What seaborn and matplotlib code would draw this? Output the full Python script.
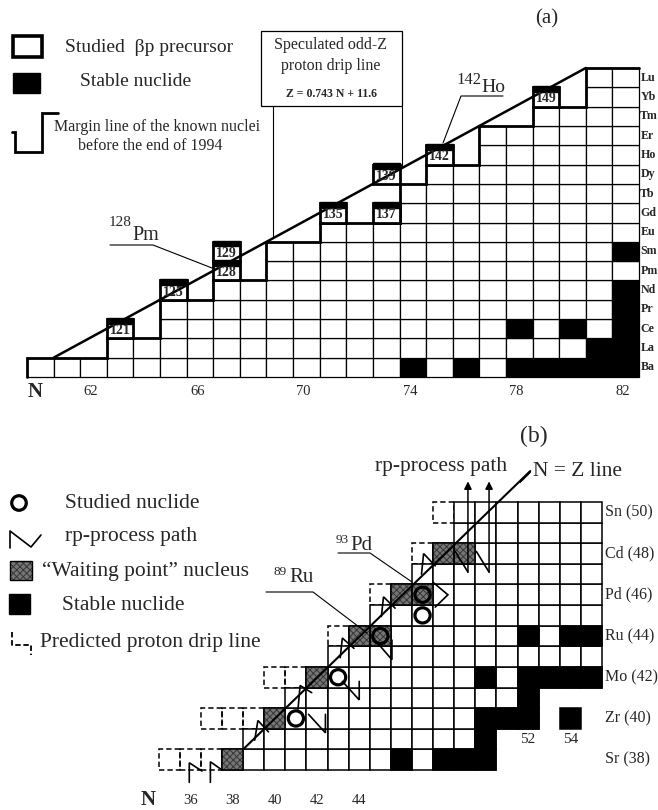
import matplotlib
matplotlib.use('Agg')
import matplotlib.pyplot as plt
from matplotlib.patches import Rectangle
import numpy as np
import pandas as pd
import seaborn as sns

sns.set_theme(style='white')
plt.rcParams['font.family'] = ['Liberation Serif', 'DejaVu Serif']
plt.rcParams['hatch.linewidth'] = 0.7

# ---------------- Panel (a) data ----------------
elements_a = ['Ba', 'La', 'Ce', 'Pr', 'Nd', 'Pm', 'Sm', 'Eu', 'Gd', 'Tb', 'Dy', 'Ho', 'Er', 'Tm', 'Yb', 'Lu']
z_a = list(range(56, 72))
n_a = list(range(60, 83))
known_top_a = [56, 56, 56, 57, 57, 59, 59, 60, 60, 62, 62, 63, 63, 63, 65, 66, 66, 68, 68, 69, 69, 71, 71]
studied_n = [63, 65, 67, 67, 71, 73, 73, 75, 79]
studied_z = [58, 60, 61, 62, 64, 64, 66, 67, 70]
studied_mass = ['121', '125', '128', '129', '135', '137', '139', '142', '149']
stable_a_n = [74, 76, 78, 79, 80, 81, 82, 81, 82, 78, 80, 82, 82, 82, 82]
stable_a_z = [56, 56, 56, 56, 56, 56, 56, 57, 57, 58, 58, 58, 59, 60, 62]
n_ticks_a = [62, 66, 70, 74, 78, 82]
drip_n = [60.5, 80.5]
drip_z = [56.5, 71.5]

# ---------------- Panel (b) data ----------------
elements_b = ['Sr', 'Y', 'Zr', 'Nb', 'Mo', 'Tc', 'Ru', 'Rh', 'Pd', 'Ag', 'Cd', 'In', 'Sn']
z_b = list(range(38, 51))
row_first_b = [38, 39, 40, 41, 42, 43, 44, 45, 46, 47, 48, 49, 49]
row_last_b = [50, 50, 52, 52, 55, 55, 55, 55, 55, 55, 55, 55, 55]
row_label_el = ['Sn', 'Cd', 'Pd', 'Ru', 'Mo', 'Zr', 'Sr']
row_label_z = [50, 48, 46, 44, 42, 40, 38]
dashed_n_b = [35, 36, 37, 37, 38, 39, 40, 41, 43, 45, 47, 48]
dashed_z_b = [38, 38, 38, 40, 40, 40, 42, 42, 44, 46, 48, 50]
stable_b_n = [46, 48, 49, 50, 50, 50, 51, 52, 54, 52, 50, 52, 53, 54, 55, 52, 54, 55]
stable_b_z = [38, 38, 38, 38, 39, 40, 40, 40, 40, 41, 42, 42, 42, 42, 42, 44, 44, 44]
waiting_n = [38, 40, 42, 44, 45, 46, 47, 48, 49]
waiting_z = [38, 40, 42, 44, 44, 46, 46, 48, 48]
circle_n = [41, 43, 45, 47, 47]
circle_z = [40, 42, 44, 45, 46]
n_ticks_b = [36, 38, 40, 42, 44]
extra_ticks_b = [52, 54]
nz_line_n = [38.5, 52.1]
nz_line_z = [38.5, 52.0]
# rp-process path strokes (N, Z)
rp_strokes = [
    ([35.95, 35.95, 36.55], [36.9, 37.85, 37.45]),
    ([36.95, 36.95, 37.5], [36.9, 37.9, 37.5]),
    ([39.05, 39.2, 39.7], [38.95, 39.9, 39.35]),
    ([41.1, 41.2, 41.75], [40.45, 41.6, 41.25]),
    ([43.1, 43.2, 43.75], [42.95, 43.9, 43.4]),
    ([45.05, 45.15, 45.7], [44.95, 45.9, 45.35]),
    ([46.95, 47.05, 47.6], [47.0, 48.0, 47.4]),
    ([41.6, 42.4, 42.4], [40.2, 39.3, 40.2]),
    ([43.2, 44.0, 44.0], [41.8, 40.9, 41.8]),
    ([44.75, 45.55, 45.55], [43.8, 42.85, 43.8]),
    ([47.5, 48.2, 47.6], [46.6, 46.0, 45.4]),
    ([48.55, 49.15], [48.1, 47.1]),
    ([49.55, 50.15], [48.1, 47.1]),
]
rp_arrow_n = [49.15, 50.15]
rp_arrow_z0 = [47.1, 47.1]
rp_arrow_z1 = [51.5, 51.5]

# ---------------- geometry (pixel layout) ----------------
W, H = 658, 810
CWA, RHA = 612 / 23, 309 / 16
CWB, RHB = 380 / 18, 268 / 13


def pa(px, py):
    return 59.5 + (px - 27) / CWA, 55.5 + (377 - py) / RHA


def pb(px, py):
    return 37.5 + (px - 222) / CWB, 37.5 + (770 - py) / RHB


fig = plt.figure(figsize=(W / 100, H / 100), dpi=100)
fig.patch.set_facecolor('white')
axA = fig.add_axes([0, 0, 1, 1])
axA.set_xlim(pa(0, 0)[0], pa(W, 0)[0])
axA.set_ylim(pa(0, H)[1], pa(0, 0)[1])
axB = fig.add_axes([0, 0, 1, 1])
axB.set_xlim(pb(0, 0)[0], pb(W, 0)[0])
axB.set_ylim(pb(0, H)[1], pb(0, 0)[1])
axP = fig.add_axes([0, 0, 1, 1])
axP.set_xlim(0, W)
axP.set_ylim(H, 0)
for ax in (axA, axB, axP):
    ax.axis('off')
    ax.patch.set_alpha(0)

K = 'black'
GREY_FC, GREY_EC = '#767676', '#363636'

# ================= Panel (a) =================
stable_a = set(zip(stable_a_n, stable_a_z))
for n, top in zip(n_a, known_top_a):
    for z in range(56, top + 1):
        fc = K if (n, z) in stable_a else 'white'
        axA.add_patch(Rectangle((n - 0.5, z - 0.5), 1, 1, fc=fc, ec=K, lw=0.9, zorder=2))

# margin line of known nuclei
mx, my = [59.5, 59.5], [55.5, 56.5]
for n, top in zip(n_a, known_top_a):
    mx += [n - 0.5, n + 0.5]
    my += [top + 0.5, top + 0.5]
axA.plot(mx, my, color=K, lw=2.0, zorder=3, solid_joinstyle='miter')

# studied precursors
for n, z, lab in zip(studied_n, studied_z, studied_mass):
    axA.add_patch(Rectangle((n - 0.5, z - 0.5), 1, 1, fc='white', ec=K, lw=2.0, zorder=4))
    axA.add_patch(Rectangle((n - 0.5, z + 0.5 - 0.24), 1, 0.3, fc=K, ec=K, lw=1, zorder=5))
    axA.text(n, z - 0.1, lab, ha='center', va='center', fontsize=10, fontweight='bold', zorder=7)

# speculated drip line
sns.lineplot(x=drip_n, y=drip_z, color=K, lw=1.8, ax=axA, sort=False, estimator=None, zorder=6)

# element labels
for z, el in zip(z_a, elements_a):
    axA.text(82.55, z, el, ha='left', va='center', fontsize=8.6, fontweight='bold')
# N ticks
ytick_a = pa(0, 391)[1]
for n in n_ticks_a:
    axA.text(n - 0.1, ytick_a, str(n), ha='center', va='center', fontsize=10.5)
axA.text(pa(35, 0)[0], pa(0, 392)[1], 'N', ha='center', va='center', fontsize=15, fontweight='bold')

# legend (a)
axP.add_patch(Rectangle((13, 36), 29, 21, fc='white', ec=K, lw=2.6))
axP.text(65, 47, 'Studied  βp precursor', ha='left', va='center', fontsize=14)
axP.add_patch(Rectangle((13, 73), 27, 20, fc=K, ec=K))
axP.text(80, 82, 'Stable nuclide', ha='left', va='center', fontsize=14)
axP.plot([12, 15, 15, 42, 42, 58], [132, 132, 152, 152, 113, 113], color=K, lw=2.0,
         solid_joinstyle='miter')
axP.text(157, 127, 'Margin line of the known nuclei', ha='center', va='center', fontsize=11.5)
axP.text(150, 146, 'before the end of 1994', ha='center', va='center', fontsize=11.5)
axP.text(547, 19, '(a)', ha='center', va='center', fontsize=15)

# speculated box
axP.add_patch(Rectangle((261, 31), 141, 75, fc='white', ec=K, lw=0.9))
axP.text(331, 45, 'Speculated odd-Z', ha='center', va='center', fontsize=11.5)
axP.text(331, 66, 'proton drip line', ha='center', va='center', fontsize=11.5)
axP.text(331, 94, 'Z = 0.743 N + 11.6', ha='center', va='center', fontsize=8.5, fontweight='bold')
for px in (273, 402):
    n0, zt = pa(px, 106)
    zline = drip_z[0] + (drip_z[1] - drip_z[0]) / (drip_n[1] - drip_n[0]) * (n0 - drip_n[0])
    axA.plot([n0, n0], [zt, zline], color=K, lw=0.8, zorder=3)

# 128Pm and 142Ho labels
axP.text(109, 223, '128', ha='left', va='center', fontsize=11)
axP.text(132, 236, 'Pm', ha='left', va='center', fontsize=14.5)
axP.plot([110, 153, 212], [245, 245, 268], color=K, lw=0.8)
axP.text(456, 80, '142', ha='left', va='center', fontsize=12)
axP.text(481, 87, 'Ho', ha='left', va='center', fontsize=14)
axP.plot([503, 461, 443], [96, 96, 143], color=K, lw=0.8)

# ================= Panel (b) =================
for n, z in zip(dashed_n_b, dashed_z_b):
    axB.add_patch(Rectangle((n - 0.5, z - 0.5), 1, 1, fc='none', ec=K, lw=1.1, ls=(0, (3.5, 2)), zorder=2))
stable_b = set(zip(stable_b_n, stable_b_z))
for z, f, l in zip(z_b, row_first_b, row_last_b):
    for n in range(f, l + 1):
        fc = K if (n, z) in stable_b else 'white'
        axB.add_patch(Rectangle((n - 0.5, z - 0.5), 1, 1, fc=fc, ec=K, lw=1.1, zorder=3))
for n, z in stable_b:
    axB.add_patch(Rectangle((n - 0.5, z - 0.5), 1, 1, fc=K, ec=K, lw=1.1, zorder=3))
for n, z in zip(waiting_n, waiting_z):
    axB.add_patch(Rectangle((n - 0.5, z - 0.5), 1, 1, fc=GREY_FC, ec=GREY_EC, lw=0,
                            hatch='xxxxx', zorder=4))
    axB.add_patch(Rectangle((n - 0.5, z - 0.5), 1, 1, fc='none', ec=K, lw=1.1, zorder=4.5))

sns.lineplot(x=nz_line_n, y=nz_line_z, color=K, lw=1.5, ax=axB, sort=False, estimator=None, zorder=6)
for xs, ys in rp_strokes:
    axB.plot(xs, ys, color=K, lw=1.2, zorder=6, solid_joinstyle='miter')
for n, z0, z1 in zip(rp_arrow_n, rp_arrow_z0, rp_arrow_z1):
    axB.annotate('', xy=(n, z1), xytext=(n, z0),
                 arrowprops=dict(arrowstyle='-|>', color=K, lw=1.1, mutation_scale=11,
                                 shrinkA=0, shrinkB=0), zorder=6)

circ = pd.DataFrame({'N': circle_n, 'Z': circle_z})
sns.scatterplot(data=circ, x='N', y='Z', marker='o', s=120, facecolor='none',
                edgecolor=K, linewidth=2.3, ax=axB, zorder=7)

# row labels and ticks (b)
for z, el in zip(row_label_z, row_label_el):
    axB.text(pb(605, 0)[0], z, f'{el} ({z})', ha='left', va='center', fontsize=11.5)
ytick_b = pb(0, 800)[1]
for n in n_ticks_b:
    axB.text(n, ytick_b, str(n), ha='center', va='center', fontsize=10.5)
for n in extra_ticks_b:
    axB.text(n, pb(0, 740)[1], str(n), ha='center', va='center', fontsize=11)
axB.text(pb(148, 0)[0], pb(0, 800)[1], 'N', ha='center', va='center', fontsize=15, fontweight='bold')

# top texts (b)
axP.text(534, 436, '(b)', ha='center', va='center', fontsize=17)
axP.text(441, 467, 'rp-process path', ha='center', va='center', fontsize=15.5)
axP.text(533, 471, 'N = Z line', ha='left', va='center', fontsize=15.5)
axP.plot([520, 530], [482, 472], color=K, lw=1.5)

# 93Pd and 89Ru labels
axP.text(336, 540, '93', ha='left', va='center', fontsize=9.5)
axP.text(350, 546, 'Pd', ha='left', va='center', fontsize=15)
axP.plot([338, 370, 412], [553, 553, 582], color=K, lw=0.8)
axP.text(274, 572, '89', ha='left', va='center', fontsize=9.5)
axP.text(289, 578, 'Ru', ha='left', va='center', fontsize=15)
axP.plot([266, 313, 367], [592, 592, 633], color=K, lw=0.8)

# legend (b)
leg = pd.DataFrame({'x': [19], 'y': [503]})
sns.scatterplot(data=leg, x='x', y='y', marker='o', s=110, facecolor='none', edgecolor=K,
                linewidth=2.3, ax=axP)
axP.text(65, 503, 'Studied nuclide', ha='left', va='center', fontsize=15.5)
axP.plot([10, 10, 31, 41], [548, 531, 547, 535], color=K, lw=1.2)
axP.text(65, 537, 'rp-process path', ha='left', va='center', fontsize=15.5)
axP.add_patch(Rectangle((10, 561), 22, 19, fc=GREY_FC, ec=GREY_EC, lw=0, hatch='xxxxx'))
axP.add_patch(Rectangle((10, 561), 22, 19, fc='none', ec=K, lw=1.0))
axP.text(42, 571, '\u201cWaiting point\u201d nucleus', ha='left', va='center', fontsize=15.5)
axP.add_patch(Rectangle((9, 594), 21, 20, fc=K, ec=K))
axP.text(62, 605, 'Stable nuclide', ha='left', va='center', fontsize=15.5)
axP.plot([12, 12, 31, 31], [632, 645, 645, 655], color=K, lw=1.3, ls=(0, (3, 1.5)))
axP.text(40, 643, 'Predicted proton drip line', ha='left', va='center', fontsize=15.5)

for ax in (axA, axB, axP):
    leg_ = ax.get_legend()
    if leg_ is not None:
        leg_.remove()
    ax.set_xlabel('')
    ax.set_ylabel('')

fig.savefig('out.png', dpi=100, facecolor='white')
